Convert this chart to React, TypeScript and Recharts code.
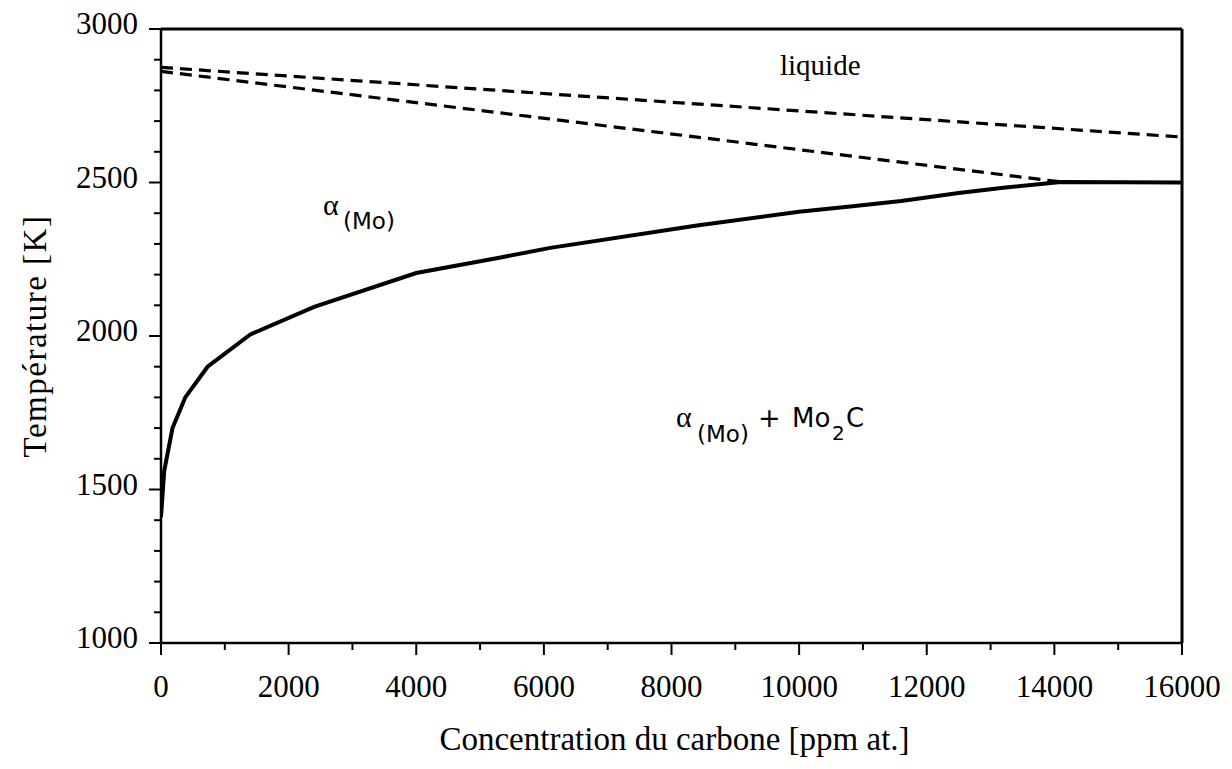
import React from "react";
import { LineChart, Line, XAxis, YAxis, ReferenceLine, ReferenceDot } from "recharts";

// Solvus curve alpha(Mo) / alpha(Mo)+Mo2C
const solvusConc = [0, 50, 180, 380, 730, 1400, 2400, 4000, 5300, 6100, 8400, 10000, 10800, 11600, 12500, 13200, 14100, 16000];
const solvusTemp = [1410, 1560, 1700, 1800, 1900, 2005, 2095, 2205, 2255, 2287, 2360, 2405, 2422, 2440, 2466, 2483, 2502, 2500];

// Liquidus (upper dashed)
const liquidusConc = [0, 16000];
const liquidusTemp = [2875, 2648];

// Solidus (lower dashed)
const solidusConc = [0, 6050, 14100];
const solidusTemp = [2862, 2708, 2502];

const xTicks = [0, 1000, 2000, 3000, 4000, 5000, 6000, 7000, 8000, 9000, 10000, 11000, 12000, 13000, 14000, 15000, 16000];
const yTicks = [1000, 1100, 1200, 1300, 1400, 1500, 1600, 1700, 1800, 1900, 2000, 2100, 2200, 2300, 2400, 2500, 2600, 2700, 2800, 2900, 3000];

const solvusData = solvusConc.map((c, i) => ({ c, t: solvusTemp[i] }));
const liquidusData = liquidusConc.map((c, i) => ({ c, t: liquidusTemp[i] }));
const solidusData = solidusConc.map((c, i) => ({ c, t: solidusTemp[i] }));

const SERIF = "'Liberation Serif', 'Times New Roman', serif";
const SANS = "'DejaVu Sans', Verdana, sans-serif";

const YTick = (props: any) => {
  const { x, y, payload } = props;
  const v = payload.value;
  const major = v % 500 === 0;
  return (
    <g>
      <line x1={x - (major ? 12 : 7)} x2={x} y1={y} y2={y} stroke="#000" strokeWidth={2} />
      {major && (
        <text x={x - 23} y={y + 5} textAnchor="end" fontFamily={SERIF} fontSize={31} fill="#000">
          {v}
        </text>
      )}
    </g>
  );
};

const XTick = (props: any) => {
  const { x, y, payload } = props;
  const v = payload.value;
  const major = v % 2000 === 0;
  return (
    <g>
      <line x1={x} x2={x} y1={y} y2={y + (major ? 12 : 7)} stroke="#000" strokeWidth={2} />
      {major && (
        <text x={x} y={y + 54} textAnchor="middle" fontFamily={SERIF} fontSize={31} fill="#000">
          {v}
        </text>
      )}
    </g>
  );
};

const YTitle = (props: any) => {
  const vb = props.viewBox || { x: 93, y: 29, width: 60, height: 614 };
  const cx = vb.x + vb.width - 126;
  const cy = vb.y + vb.height / 2;
  return (
    <text
      x={cx}
      y={cy}
      transform={`rotate(-90, ${cx}, ${cy})`}
      textAnchor="middle"
      dominantBaseline="central"
      fontFamily={SERIF}
      fontSize={33}
      letterSpacing={1.5}
      fill="#000"
    >
      Température [K]
    </text>
  );
};

const XTitle = (props: any) => {
  const vb = props.viewBox || { x: 153, y: 643, width: 1021, height: 60 };
  const cx = vb.x + vb.width / 2 + 3;
  const cy = vb.y + 107;
  return (
    <text x={cx} y={cy} textAnchor="middle" fontFamily={SERIF} fontSize={33} fill="#000">
      Concentration du carbone [ppm at.]
    </text>
  );
};

const LiquidLabel = (props: any) => {
  const vb = props.viewBox || { x: 0, y: 0 };
  return (
    <text x={vb.x} y={vb.y} fontFamily={SERIF} fontSize={29} fill="#000">
      liquide
    </text>
  );
};

const AlphaLabel = (props: any) => {
  const vb = props.viewBox || { x: 0, y: 0 };
  return (
    <g>
      <text x={vb.x} y={vb.y} fontFamily={SERIF} fontSize={30} fill="#000">α</text>
      <text x={vb.x + 20} y={vb.y + 14} fontFamily={SANS} fontSize={23} fill="#000">(Mo)</text>
    </g>
  );
};

const AlphaMo2CLabel = (props: any) => {
  const vb = props.viewBox || { x: 0, y: 0 };
  return (
    <g>
      <text x={vb.x} y={vb.y} fontFamily={SERIF} fontSize={30} fill="#000">α</text>
      <text x={vb.x + 21} y={vb.y + 15} fontFamily={SANS} fontSize={23} fill="#000">(Mo)</text>
      <text x={vb.x + 82} y={vb.y} fontFamily={SANS} fontSize={27} fill="#000">+</text>
      <text x={vb.x + 116} y={vb.y} fontFamily={SANS} fontSize={26} fill="#000">Mo</text>
      <text x={vb.x + 156} y={vb.y + 13} fontFamily={SANS} fontSize={20} fill="#000">2</text>
      <text x={vb.x + 170} y={vb.y} fontFamily={SANS} fontSize={26} fill="#000">C</text>
    </g>
  );
};

export default function App() {
  return (
    <div style={{ marginTop: -8, width: 1216, height: 761 }}>
      <LineChart
        width={1216}
        height={761}
        margin={{ top: 29, right: 42, bottom: 58, left: 93 }}
        style={{ background: "#fff" }}
      >
        <XAxis
          type="number"
          dataKey="c"
          domain={[0, 16000]}
          ticks={xTicks}
          interval={0}
          height={60}
          tickSize={0}
          tickMargin={0}
          tickLine={false}
          tick={<XTick />}
          axisLine={{ stroke: "#000", strokeWidth: 2.5 }}
          allowDataOverflow
          label={<XTitle />}
        />
        <YAxis
          type="number"
          dataKey="t"
          domain={[1000, 3000]}
          ticks={yTicks}
          interval={0}
          width={60}
          tickSize={0}
          tickMargin={0}
          tickLine={false}
          tick={<YTick />}
          axisLine={{ stroke: "#000", strokeWidth: 2.5 }}
          allowDataOverflow
          label={<YTitle />}
        />
        <ReferenceLine y={3000} stroke="#000" strokeWidth={3} />
        <ReferenceLine x={16000} stroke="#000" strokeWidth={3} />
        <Line
          data={liquidusData}
          dataKey="t"
          type="linear"
          stroke="#000"
          strokeWidth={3.2}
          strokeDasharray="12 7"
          dot={false}
          isAnimationActive={false}
        />
        <Line
          data={solidusData}
          dataKey="t"
          type="linear"
          stroke="#000"
          strokeWidth={3.2}
          strokeDasharray="12 7"
          dot={false}
          isAnimationActive={false}
        />
        <Line
          data={solvusData}
          dataKey="t"
          type="linear"
          stroke="#000"
          strokeWidth={4}
          dot={false}
          isAnimationActive={false}
        />
        <ReferenceDot x={9700} y={2850} r={0} fill="none" stroke="none" label={<LiquidLabel />} />
        <ReferenceDot x={2539} y={2394} r={0} fill="none" stroke="none" label={<AlphaLabel />} />
        <ReferenceDot x={8071} y={1704} r={0} fill="none" stroke="none" label={<AlphaMo2CLabel />} />
      </LineChart>
    </div>
  );
}
